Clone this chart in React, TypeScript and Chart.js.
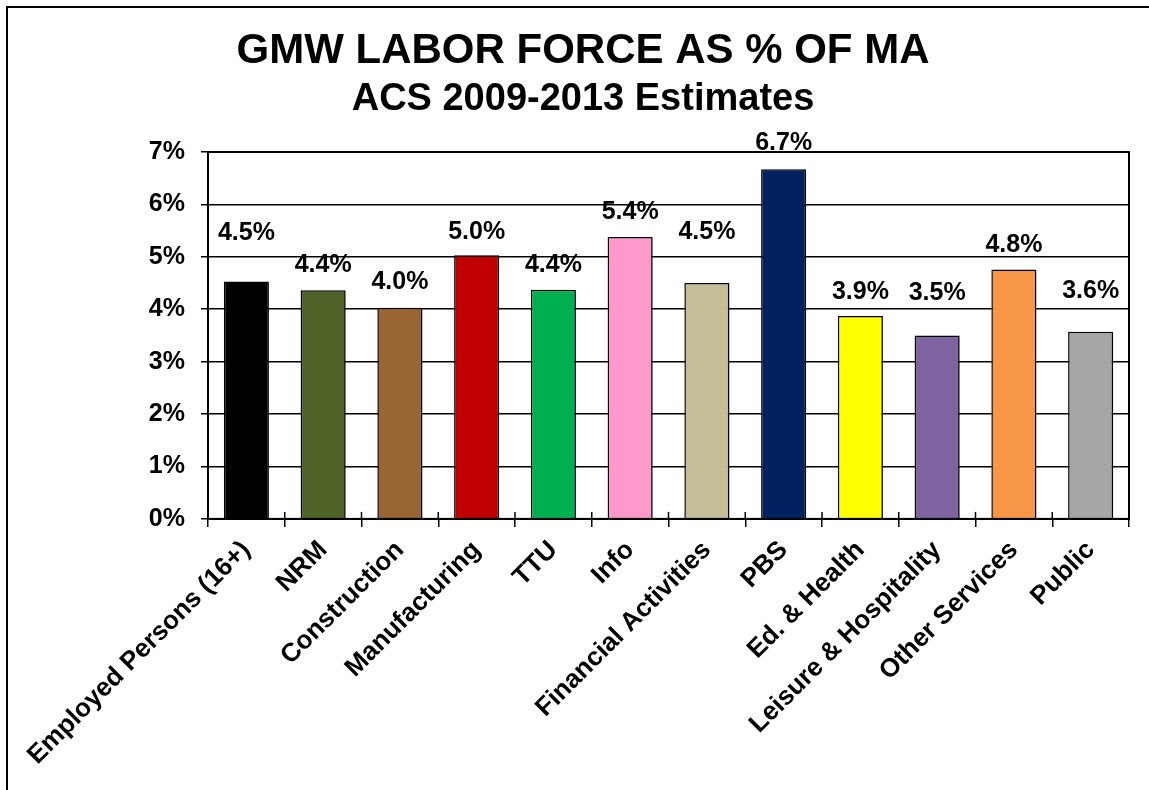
import React, { useEffect, useRef } from 'react';
import { Chart, registerables } from 'chart.js';

Chart.register(...registerables);

const titleText = 'GMW LABOR FORCE AS % OF MA';
const subtitleText = 'ACS 2009-2013 Estimates';

const categories = [
  'Employed Persons (16+)',
  'NRM',
  'Construction',
  'Manufacturing',
  'TTU',
  'Info',
  'Financial Activities',
  'PBS',
  'Ed. & Health',
  'Leisure & Hospitality',
  'Other Services',
  'Public',
];

const values = [4.53, 4.36, 4.03, 5.03, 4.37, 5.38, 4.5, 6.67, 3.87, 3.5, 4.76, 3.57];

const barColors = [
  '#000000',
  '#4F6228',
  '#996633',
  '#C00000',
  '#00B050',
  '#FF99CC',
  '#C4BD97',
  '#002060',
  '#FFFF00',
  '#8064A2',
  '#F79646',
  '#A6A6A6',
];

// value-axis level at which each data label is centred (labels were moved by hand in the original)
const labelLevels = [5.45, 4.84, 4.51, 5.47, 4.84, 5.86, 5.47, 7.17, 4.33, 4.31, 5.23, 4.35];

const yMin = 0;
const yMax = 7;
const yStep = 1;

const FONT = '"Liberation Sans", Arial, sans-serif';

export default function App() {
  const ref = useRef<HTMLCanvasElement>(null);

  useEffect(() => {
    const canvas = ref.current;
    if (!canvas) return;

    const framePlugin = {
      id: 'frame',
      beforeDraw(chart: any) {
        const ctx = chart.ctx;
        ctx.save();
        ctx.fillStyle = '#ffffff';
        ctx.fillRect(0, 0, chart.width, chart.height);
        ctx.strokeStyle = '#000000';
        ctx.lineWidth = 2;
        ctx.beginPath();
        ctx.moveTo(7, chart.height + 10);
        ctx.lineTo(7, 7);
        ctx.lineTo(chart.width + 10, 7);
        ctx.stroke();
        ctx.restore();
      },
    };

    const shadowPlugin = {
      id: 'barShadow',
      beforeDatasetsDraw(chart: any) {
        const ctx = chart.ctx;
        ctx.save();
        ctx.shadowColor = 'rgba(0,0,0,0.3)';
        ctx.shadowOffsetX = 3;
        ctx.shadowOffsetY = 2;
        ctx.shadowBlur = 3;
      },
      afterDatasetsDraw(chart: any) {
        chart.ctx.restore();
      },
    };

    const decorPlugin = {
      id: 'decor',
      afterDraw(chart: any) {
        const ctx = chart.ctx;
        const area = chart.chartArea;
        const xs = chart.scales.x;
        const ys = chart.scales.y;
        ctx.save();
        // plot area box
        ctx.strokeStyle = '#000000';
        ctx.lineWidth = 2;
        ctx.strokeRect(area.left, area.top, area.right - area.left, area.bottom - area.top);
        // inner part of category tick marks
        ctx.lineWidth = 1.5;
        for (let i = 0; i <= categories.length; i++) {
          const x = xs.getPixelForValue(i - 0.5);
          ctx.beginPath();
          ctx.moveTo(x, area.bottom);
          ctx.lineTo(x, area.bottom - 7);
          ctx.stroke();
        }
        // data labels
        ctx.fillStyle = '#000000';
        ctx.font = `bold 25px ${FONT}`;
        ctx.textAlign = 'center';
        ctx.textBaseline = 'middle';
        values.forEach((v, i) => {
          const x = xs.getPixelForValue(i);
          const y = ys.getPixelForValue(labelLevels[i]);
          ctx.fillText(v.toFixed(1) + '%', x, y);
        });
        ctx.restore();
      },
    };

    const chart = new Chart(canvas, {
      type: 'bar',
      data: {
        labels: categories,
        datasets: [
          {
            data: values,
            backgroundColor: barColors,
            borderColor: '#000000',
            borderWidth: 1.5,
            categoryPercentage: 1,
            barPercentage: 0.587,
          },
        ],
      },
      options: {
        responsive: false,
        animation: false,
        layout: { padding: { left: 37, right: 20, top: 0, bottom: 11 } },
        plugins: {
          legend: { display: false },
          tooltip: { enabled: false },
          title: {
            display: true,
            text: titleText,
            color: '#000000',
            font: { family: FONT, size: 42, weight: 'bold' },
            padding: { top: 26, bottom: 0 },
          },
          subtitle: {
            display: true,
            text: subtitleText,
            color: '#000000',
            font: { family: FONT, size: 38, weight: 'bold' },
            padding: { top: 0, bottom: 30 },
          },
        },
        scales: {
          x: {
            offset: true,
            grid: {
              offset: true,
              display: true,
              drawOnChartArea: false,
              drawTicks: true,
              tickLength: 8,
              color: '#000000',
              lineWidth: 1.5,
            },
            border: { display: true, color: '#000000', width: 2 },
            ticks: {
              autoSkip: false,
              minRotation: 45,
              maxRotation: 45,
              padding: 8,
              color: '#000000',
              font: { family: FONT, size: 26, weight: 'bold' },
            },
          },
          y: {
            min: yMin,
            max: yMax,
            afterFit(scale: any) {
              scale.width = 171;
            },
            grid: {
              color: '#000000',
              lineWidth: 1.5,
              drawTicks: true,
              tickLength: 7,
            },
            border: { display: true, color: '#000000', width: 2 },
            ticks: {
              stepSize: yStep,
              padding: 16,
              color: '#000000',
              font: { family: FONT, size: 25, weight: 'bold' },
              callback: (v: any) => `${v}%`,
            },
          },
        },
      },
      plugins: [framePlugin, shadowPlugin, decorPlugin],
    } as any);

    return () => chart.destroy();
  }, []);

  return (
    <div style={{ position: 'absolute', left: 0, top: 0, width: 1149, height: 790, overflow: 'hidden' }}>
      <canvas ref={ref} width={1149} height={790} style={{ display: 'block', width: 1149, height: 790 }} />
    </div>
  );
}
